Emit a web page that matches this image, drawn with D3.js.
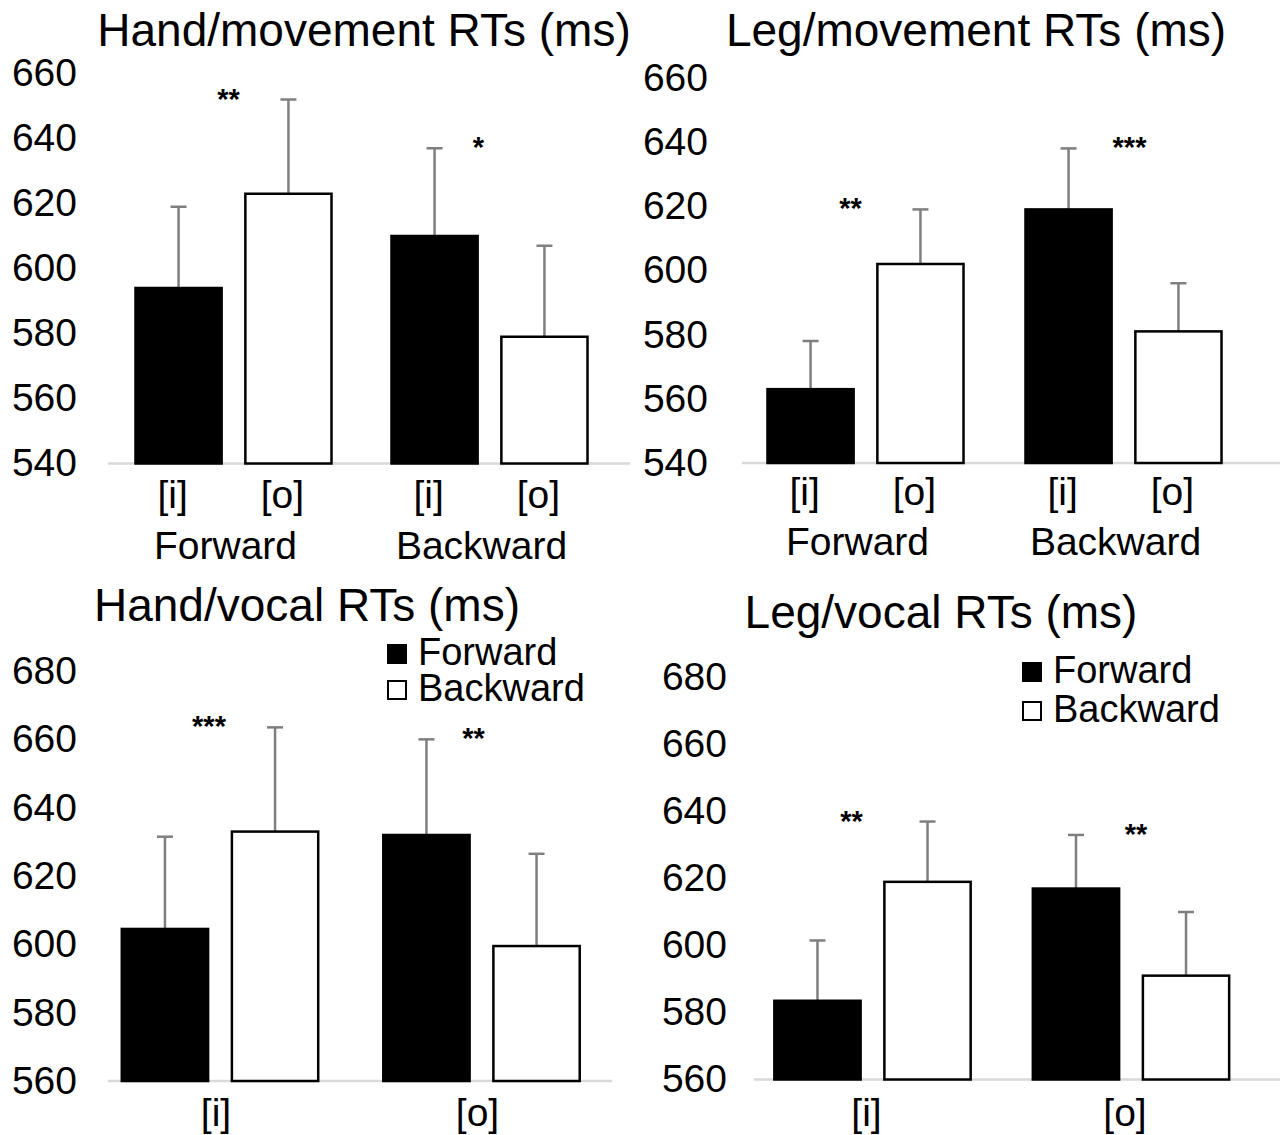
<!DOCTYPE html>
<html>
<head>
<meta charset="utf-8">
<script src="https://cdn.jsdelivr.net/npm/d3@7"></script>
<style>
	body { margin: 0; background: #fff; }
	svg text { font-family: Arial, "Liberation Sans", sans-serif; fill: #000; }
</style>
</head>
<body>
<div id="chart"></div>
<script>
// categories
const directions = ["Forward", "Backward"];
const vowels = ["[i]", "[o]"];

// tick values
const movementTicks = [540, 560, 580, 600, 620, 640, 660];
const vocalTicks = [560, 580, 600, 620, 640, 660, 680];

// means and error sizes (ms), order: group1 bar1, group1 bar2, group2 bar1, group2 bar2
const handMoveMeans = [594, 623, 610, 579];
const handMoveErrors = [25, 29, 27, 28];
const handMoveStars = ["**", "*"];

const legMoveMeans = [563, 602, 619, 581];
const legMoveErrors = [15, 17, 19, 15];
const legMoveStars = ["**", "***"];

const handVocalMeans = [604.5, 633, 632, 599.5];
const handVocalErrors = [27, 30.5, 28, 27];
const handVocalStars = ["***", "**"];

const legVocalMeans = [583.5, 619, 617, 591];
const legVocalErrors = [18, 18, 16, 19];
const legVocalStars = ["**", "**"];

const width = 1280;
const height = 1135;

const svg = d3
	.select("#chart")
	.append("svg")
	.attr("width", width)
	.attr("height", height);

svg.append("rect").attr("width", width).attr("height", height).attr("fill", "#fff");

const panels = [
	{
		title: "Hand/movement RTs (ms)", titleX: 364, titleY: 46,
		means: handMoveMeans, errors: handMoveErrors, stars: handMoveStars, starDx: [-5, -11],
		groups: directions, bars: vowels, ticks: movementTicks,
		left: 105.5, right: 617.5, outerPad: 0.273, baseY: 463.5, topY: 73.5,
		axisX: [108, 630], labelX: 77, barLabelY: 508, groupLabelY: 559, labelDx: -6,
	},
	{
		title: "Leg/movement RTs (ms)", titleX: 976, titleY: 46,
		means: legMoveMeans, errors: legMoveErrors, stars: legMoveStars, starDx: [-15, 6],
		groups: directions, bars: vowels, ticks: movementTicks,
		left: 736.5, right: 1252.5, outerPad: 0.282, baseY: 463, topY: 77.8,
		axisX: [742, 1280], labelX: 708, barLabelY: 505, groupLabelY: 555, labelDx: -6,
	},
	{
		title: "Hand/vocal RTs (ms)", titleX: 307, titleY: 621,
		means: handVocalMeans, errors: handVocalErrors, stars: handVocalStars, starDx: [-11, -8],
		groups: vowels, bars: directions, ticks: vocalTicks,
		left: 89.25, right: 612.25, outerPad: 0.2955, baseY: 1081, topY: 671,
		axisX: [108, 612], labelX: 77, groupLabelY: 1126, labelDx: -2,
		legendX: 387, legendY: [644, 680],
	},
	{
		title: "Leg/vocal RTs (ms)", titleX: 941, titleY: 628,
		means: legVocalMeans, errors: legVocalErrors, stars: legVocalStars, starDx: [-21, 5],
		groups: vowels, bars: directions, ticks: vocalTicks,
		left: 743.25, right: 1260.25, outerPad: 0.2825, baseY: 1079.5, topY: 677.5,
		axisX: [754, 1280], labelX: 727, groupLabelY: 1126, labelDx: -4,
		legendX: 1022, legendY: [662, 701],
	},
];

panels.forEach(drawPanel);

function drawPanel(p) {
	const g = svg.append("g");

	const y = d3
		.scaleLinear()
		.domain([p.ticks[0], p.ticks[p.ticks.length - 1]])
		.range([p.baseY, p.topY]);

	const x0 = d3.scaleBand().domain(p.groups).range([p.left, p.right]);
	const x1 = d3
		.scaleBand()
		.domain(p.bars)
		.range([0, x0.bandwidth()])
		.paddingInner(0.216)
		.paddingOuter(p.outerPad);

	const rows = p.means.map((m, i) => ({
		group: p.groups[Math.floor(i / 2)],
		bar: p.bars[i % 2],
		mean: m,
		err: p.errors[i],
		fill: i % 2 === 0 ? "#000" : "#fff",
	}));

	// title
	g.append("text")
		.attr("x", p.titleX)
		.attr("y", p.titleY)
		.attr("text-anchor", "middle")
		.style("font-size", "46px")
		.text(p.title);

	// y axis labels only
	const yAxis = d3.axisLeft(y).tickValues(p.ticks).tickSize(0).tickPadding(0);
	g.append("g")
		.attr("transform", `translate(${p.labelX}, 0)`)
		.call(yAxis)
		.call((a) => a.select(".domain").remove())
		.selectAll("text")
		.style("font-size", "39px")
		.attr("font-family", null);

	// baseline
	g.append("line")
		.attr("x1", p.axisX[0])
		.attr("x2", p.axisX[1])
		.attr("y1", y(p.ticks[0]))
		.attr("y2", y(p.ticks[0]))
		.attr("stroke", "#d9d9d9")
		.attr("stroke-width", 2.5);

	// error bars
	const cx = (d) => x0(d.group) + x1(d.bar) + x1.bandwidth() / 2;
	const errG = g.append("g").attr("stroke", "#7f7f7f").attr("stroke-width", 2.5);
	errG.selectAll(".err")
		.data(rows)
		.enter()
		.append("line")
		.attr("x1", cx)
		.attr("x2", cx)
		.attr("y1", (d) => y(d.mean))
		.attr("y2", (d) => y(d.mean + d.err));
	errG.selectAll(".cap")
		.data(rows)
		.enter()
		.append("line")
		.attr("x1", (d) => cx(d) - 8)
		.attr("x2", (d) => cx(d) + 8)
		.attr("y1", (d) => y(d.mean + d.err))
		.attr("y2", (d) => y(d.mean + d.err));

	// bars
	g.append("g")
		.selectAll("rect")
		.data(rows)
		.enter()
		.append("rect")
		.attr("x", (d) => x0(d.group) + x1(d.bar))
		.attr("y", (d) => y(d.mean))
		.attr("width", x1.bandwidth())
		.attr("height", (d) => y(p.ticks[0]) - y(d.mean))
		.attr("fill", (d) => d.fill)
		.attr("stroke", "#000")
		.attr("stroke-width", 2.5);

	// significance stars, at the height of the taller error bar in each group
	g.append("g")
		.selectAll("text")
		.data(p.groups)
		.enter()
		.append("text")
		.attr("x", (d, i) => x0(d) + x0.bandwidth() / 2 + p.starDx[i])
		.attr("y", (d) => {
			const top = d3.max(rows.filter((r) => r.group === d), (r) => r.mean + r.err);
			return y(top) + 9;
		})
		.attr("text-anchor", "middle")
		.style("font-size", "29px")
		.style("font-weight", "bold")
		.text((d, i) => p.stars[i]);

	// category labels
	if (p.barLabelY) {
		p.groups.forEach((grp) => {
			const ax = d3.axisBottom(x1).tickSize(0);
			g.append("g")
				.attr("transform", `translate(${x0(grp) + p.labelDx}, ${p.barLabelY})`)
				.call(ax)
				.call((a) => a.select(".domain").remove())
				.selectAll("text")
				.attr("y", 0)
				.attr("dy", 0)
				.attr("font-family", null)
				.style("font-size", "39px");
		});
	}
	const groupAxis = d3.axisBottom(x0).tickSize(0);
	g.append("g")
		.attr("transform", `translate(${p.labelDx - 2}, ${p.groupLabelY})`)
		.call(groupAxis)
		.call((a) => a.select(".domain").remove())
		.selectAll("text")
		.attr("y", 0)
		.attr("dy", 0)
		.attr("font-family", null)
		.style("font-size", "39px");

	// legend
	if (p.legendX) {
		const leg = g.append("g")
			.selectAll("g")
			.data(p.bars)
			.enter()
			.append("g")
			.attr("transform", (d, i) => `translate(${p.legendX}, ${p.legendY[i]})`);
		leg.append("rect")
			.attr("x", 1)
			.attr("y", 1)
			.attr("width", 18)
			.attr("height", 18)
			.attr("fill", (d, i) => (i === 0 ? "#000" : "#fff"))
			.attr("stroke", "#000")
			.attr("stroke-width", 2);
		leg.append("text")
			.attr("x", 31)
			.attr("y", 21)
			.style("font-size", "38px")
			.text((d) => d);
	}
}
</script>
</body>
</html>
